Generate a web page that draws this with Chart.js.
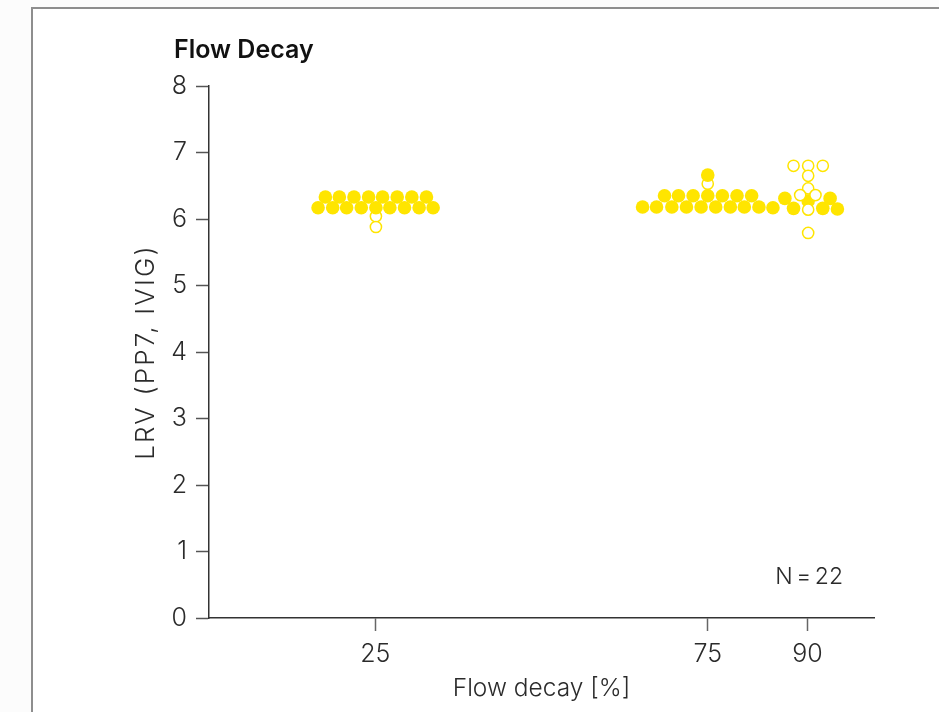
<!DOCTYPE html>
<html>
<head>
<meta charset="utf-8">
<script src="https://cdn.jsdelivr.net/npm/chart.js@4.4.1/dist/chart.umd.min.js"></script>
<style>
  html, body { margin: 0; padding: 0; background: #fcfcfc; }
  #frame {
    position: absolute; left: 31px; top: 7px; right: 0; bottom: 0;
    border-top: 2px solid #8e8e8e; border-left: 2px solid #8e8e8e;
    background: #ffffff;
  }
  #flowDecayChart { position: absolute; left: 0; top: 0; }
</style>
</head>
<body>
<div id="frame"></div>
<canvas id="flowDecayChart" width="939" height="712"></canvas>
<script>
// x tick positions (flow decay, %) and y range (LRV)
const xTickValues = [25, 75, 90];
const yTickValues = [0, 1, 2, 3, 4, 5, 6, 7, 8];

// 25 % group
const g25SolidX = [16.4, 18.6, 20.7, 22.9, 25.1, 27.2, 29.4, 31.6, 33.7,
                   17.5, 19.6, 21.8, 24.0, 26.1, 28.3, 30.5, 32.7];
const g25SolidY = [6.17, 6.17, 6.17, 6.17, 6.17, 6.17, 6.17, 6.17, 6.17,
                   6.33, 6.33, 6.33, 6.33, 6.33, 6.33, 6.33, 6.33];
const g25OpenX = [25.1, 25.1];
const g25OpenY = [6.04, 5.88];

// 75 % group
const g75SolidX = [65.2, 67.3, 69.6, 71.8, 74.0, 76.2, 78.4, 80.5, 82.7,
                   68.5, 70.6, 72.8, 75.0, 77.2, 79.4, 81.6, 75.0];
const g75SolidY = [6.18, 6.18, 6.18, 6.18, 6.18, 6.18, 6.18, 6.18, 6.18,
                   6.35, 6.35, 6.35, 6.35, 6.35, 6.35, 6.35, 6.66];
const g75OpenX = [75.0];
const g75OpenY = [6.53];

// 90 % group
const g90SolidX = [84.8, 86.6, 87.9, 90.1, 92.3, 93.4, 94.5];
const g90SolidY = [6.17, 6.31, 6.16, 6.27, 6.16, 6.31, 6.15];
const g90OpenX = [87.9, 90.1, 92.3, 90.1, 90.1, 88.9, 91.2, 90.1, 90.1];
const g90OpenY = [6.80, 6.80, 6.80, 6.65, 6.46, 6.36, 6.36, 6.14, 5.79];

const sampleCount = 22;

const YELLOW = "#ffe500";
const INK = "#2b2b2b";
const FONT = "Inter, 'Open Sans', sans-serif";

const pts = (xs, ys) => xs.map((x, i) => ({ x: x, y: ys[i] }));

const solid = (xs, ys, order) => ({
    data: pts(xs, ys),
    order: order,
    pointRadius: 6.8,
    pointBackgroundColor: YELLOW,
    pointBorderWidth: 0,
    pointBorderColor: YELLOW,
});
const hollow = (xs, ys, order) => ({
    data: pts(xs, ys),
    order: order,
    pointRadius: 5.6,
    pointBackgroundColor: "#ffffff",
    pointBorderWidth: 1.5,
    pointBorderColor: YELLOW,
});

// captions: panel title, axis titles and sample size
const captions = {
    id: "captions",
    afterDraw(chart) {
        const { ctx, chartArea } = chart;
        ctx.save();
        ctx.fillStyle = "#111";
        ctx.font = "600 25px " + FONT;
        ctx.textAlign = "left";
        ctx.textBaseline = "middle";
        ctx.fillText("Flow Decay", 174, 50);

        ctx.fillStyle = INK;
        ctx.font = "300 24.5px " + FONT;
        ctx.textAlign = "center";
        ctx.fillText("Flow decay [%]", (chartArea.left + chartArea.right) / 2, 689);

        ctx.font = "300 23px " + FONT;
        ctx.textAlign = "right";
        ctx.wordSpacing = "-3px";
        ctx.fillText("N = " + sampleCount, 843, 577);
        ctx.wordSpacing = "0px";

        ctx.font = "300 26px " + FONT;
        ctx.letterSpacing = "2.2px";
        ctx.translate(146, (chartArea.top + chartArea.bottom) / 2);
        ctx.rotate(-Math.PI / 2);
        ctx.textAlign = "center";
        ctx.fillText("LRV (PP7, IVIG)", 0, 0);
        ctx.restore();
    },
};

new Chart(document.getElementById("flowDecayChart"), {
    type: "scatter",
    data: {
        datasets: [
            solid(g25SolidX, g25SolidY, 1),
            hollow(g25OpenX, g25OpenY, 2),
            solid(g75SolidX, g75SolidY, 1),
            hollow(g75OpenX, g75OpenY, 2),
            solid(g90SolidX, g90SolidY, 4),
            hollow(g90OpenX, g90OpenY, 3),
        ],
    },
    options: {
        responsive: false,
        animation: false,
        layout: { padding: { top: 86, right: 65, left: 0, bottom: 0 } },
        plugins: {
            legend: { display: false },
            tooltip: { enabled: false },
        },
        scales: {
            x: {
                type: "linear",
                min: 0,
                max: 100,
                afterFit: (s) => { s.height = 94; },
                afterBuildTicks: (s) => { s.ticks = xTickValues.map((v) => ({ value: v })); },
                grid: { drawOnChartArea: false, drawTicks: true, tickLength: 13, tickColor: "#666", tickWidth: 1.5 },
                border: { display: true, color: "#333", width: 1.5 },
                ticks: { color: INK, padding: 8, font: { family: FONT, size: 25, weight: 300 } },
            },
            y: {
                min: 0,
                max: 8,
                afterFit: (s) => { s.width = 209; },
                afterBuildTicks: (s) => { s.ticks = yTickValues.map((v) => ({ value: v })); },
                grid: { drawOnChartArea: false, drawTicks: true, tickLength: 13, tickColor: "#555", tickWidth: 1.5 },
                border: { display: true, color: "#333", width: 1.5 },
                ticks: { color: INK, padding: 9, font: { family: FONT, size: 25, weight: 300 } },
            },
        },
    },
    plugins: [captions],
});
</script>
</body>
</html>
